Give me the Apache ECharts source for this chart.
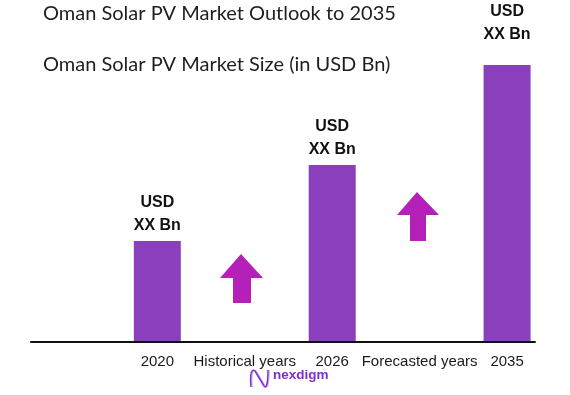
<!DOCTYPE html>
<html>
<head>
<meta charset="utf-8">
<script src="https://cdn.jsdelivr.net/npm/echarts@6/dist/echarts.min.js"></script>
<style>html,body{margin:0;padding:0;background:#fff}#c{width:570px;height:395px}</style>
</head>
<body>
<div id="c"></div>
<script>
// Data
var categories = ['2020', 'Historical years', '2026', 'Forecasted years', '2035'];
var marketSize = [10.1, null, 17.7, null, 27.7];   // relative bar heights (values shown as "USD XX Bn")
var barLabelText = 'USD\nXX Bn';
var titleMain = 'Oman Solar PV Market Outlook to 2035';
var titleSub = 'Oman Solar PV Market Size (in USD Bn)';

var chart = echarts.init(document.getElementById('c'), null, {renderer: 'canvas'});
var barColor = '#8A40BD';
var arrowColor = '#B420B8';

var seriesData = marketSize.map(function (v, i) {
  if (v === null) return null;
  var item = {value: v};
  if (i === marketSize.length - 1) item.label = {distance: 19};
  return item;
});

function logoStroke(dx, color, w) {
  return [
    {type: 'bezierCurve', shape: {x1: 251 + dx, y1: 387, x2: 255 + dx, y2: 371, cpx1: 250 + dx, cpy1: 375, cpx2: 251 + dx, cpy2: 368}, style: {stroke: color, lineWidth: w, fill: null}},
    {type: 'line', shape: {x1: 255 + dx, y1: 371, x2: 264 + dx, y2: 386}, style: {stroke: color, lineWidth: w}},
    {type: 'bezierCurve', shape: {x1: 264 + dx, y1: 386, x2: 268 + dx, y2: 370, cpx1: 267 + dx, cpy1: 390, cpx2: 268 + dx, cpy2: 380}, style: {stroke: color, lineWidth: w, fill: null}}
  ];
}

var graphics = [
  {type: 'polygon', shape: {points: [[241,254],[263,278],[251,278],[251,303],[233,303],[233,278],[220,278]]}, style: {fill: arrowColor}},
  {type: 'polygon', shape: {points: [[417,192],[439,215],[426,215],[426,241],[410,241],[410,215],[397,215]]}, style: {fill: arrowColor}},
  {type: 'text', left: 273, top: 368, style: {text: 'nexdigm', fontFamily: 'Liberation Sans', fontWeight: 'bold', fontSize: 13.5, fill: '#7B2FD8'}}
].concat(logoStroke(1.2, '#D3A6F2', 1.1)).concat(logoStroke(0, '#7B2FD8', 1.5));

chart.setOption({
  animation: false,
  backgroundColor: '#ffffff',
  title: [
    {text: titleMain, left: 43, top: 4, padding: 0, textStyle: {fontFamily: 'Lato', fontWeight: 'normal', fontSize: 20, color: '#1e1e1e'}},
    {text: titleSub, left: 43, top: 55, padding: 0, textStyle: {fontFamily: 'Lato', fontWeight: 'normal', fontSize: 20, color: '#1e1e1e'}}
  ],
  grid: [
    {left: 113.6, right: 19.2, top: 42, bottom: 53},
    {left: 31, right: 35, top: 42, bottom: 53}
  ],
  xAxis: [
    {type: 'category', gridIndex: 0, data: categories,
     axisLine: {show: false}, axisTick: {show: false},
     axisLabel: {interval: 0, margin: 12, fontFamily: 'Liberation Sans', fontSize: 15, color: '#1a1a1a'}},
    {type: 'category', gridIndex: 1, data: [''], z: 5,
     axisLine: {show: true, lineStyle: {color: '#111', width: 2}}, axisTick: {show: false}, axisLabel: {show: false}}
  ],
  yAxis: [
    {type: 'value', gridIndex: 0, min: 0, max: 30, show: false, splitLine: {show: false}},
    {type: 'value', gridIndex: 1, min: 0, max: 30, show: false, splitLine: {show: false}}
  ],
  series: [{
    type: 'bar', xAxisIndex: 0, yAxisIndex: 0,
    data: seriesData, barWidth: 47,
    itemStyle: {color: barColor},
    label: {show: true, position: 'top', distance: 3.5, formatter: barLabelText,
      fontFamily: 'Liberation Sans', fontWeight: 'bold', fontSize: 16, lineHeight: 23, color: '#111'}
  }],
  graphic: graphics
});
</script>
</body>
</html>
